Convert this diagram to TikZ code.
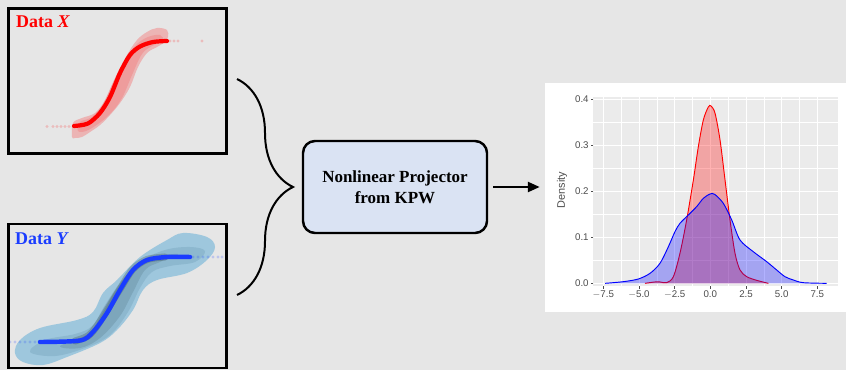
\documentclass[tikz,border=0pt]{standalone}
\usepackage{fontspec}
\setmainfont{Liberation Serif}
\setsansfont{Liberation Sans}
\usepackage{tikz}
\usetikzlibrary{decorations.pathreplacing, arrows.meta, positioning}
\definecolor{pagebg}{HTML}{E6E6E6}
\definecolor{projfill}{HTML}{DAE3F3}
\definecolor{dataX}{HTML}{FF0000}
\definecolor{dataY}{HTML}{1A3CFF}
\definecolor{kdeA}{HTML}{9EC7DD}
\definecolor{kdeB}{HTML}{8DB8CF}
\definecolor{kdeC}{HTML}{7DA6BB}
\definecolor{panelgray}{HTML}{EBEBEB}
\definecolor{ticktext}{HTML}{4D4D4D}
\tikzset{
    databox/.style={draw=black, line width=2.5pt, minimum width=6.54cm, inner sep=0pt},
    projbox/.style={draw=black, fill=projfill, line width=2.1pt, rounded corners=0.36cm,
        minimum width=5.52cm, minimum height=2.76cm, align=center,
        font=\fontsize{14.5}{17.5}\selectfont\bfseries},
    datalabel/.style={font=\fontsize{15.3}{18}\selectfont\bfseries, anchor=base west, inner sep=0pt},
    ticklabel/.style={font=\sffamily\fontsize{8.3}{10}\selectfont, text=ticktext, inner sep=1.5pt},
    majorgrid/.style={white, line width=0.7pt},
    minorgrid/.style={white, line width=0.3pt}
}

\begin{document}
\begin{tikzpicture}[x=0.03cm, y=-0.03cm]
    % canvas
    \fill[pagebg] (0,0) rectangle (846,370);
    \useasboundingbox (0,0) rectangle (846,370);

    % 1. Data X
    \fill[red!22!pagebg] plot[smooth cycle, tension=.6] coordinates {
        (72,137) (73,123) (82,118) (95,113) (105,100) (115,78) (127,55) (137,40)
        (147,32) (157,28) (167,30) (168,37) (165,42) (157,47) (147,53) (138,67)
        (130,87) (120,103) (110,115) (100,125) (90,132) (82,137) (75,138)};
    \fill[red!32!pagebg] plot[smooth cycle, tension=.6] coordinates {
        (78,131) (80,122) (92,117) (103,104) (113,83) (125,60) (136,45) (148,37)
        (160,35) (163,41) (152,46) (142,54) (132,75) (122,98) (110,114) (98,124) (86,131)};
    \foreach \px in {47,53,57,61,65,69} \fill[red, opacity=.18] (\px,126.5) circle (1.7);
    \foreach \px in {170,174,178,202} \fill[red, opacity=.18] (\px,41) circle (1.7);
    \draw[dataX, line width=3.6pt, line cap=round] plot[smooth] coordinates {
        (74,126) (88,123.5) (100,113) (110,97) (120,73) (130,55) (140,46.5) (153,42) (167,41)};
    \node[databox, minimum height=4.35cm] (boxX) at (117.5,81) {};
    \node[datalabel, text=dataX] (labelX) at (16,28) {Data \textit{X}};

    % 2. Data Y
    \fill[kdeA] plot[smooth cycle, tension=.6] coordinates {
        (15,353) (20,340) (40,328) (77,320) (93,312) (103,293) (117,280) (140,257)
        (167,240) (183,233) (207,237) (215,247) (207,260) (187,273) (157,280)
        (143,290) (133,310) (117,330) (100,343) (67,357) (43,365) (23,362)};
    \fill[kdeB] plot[smooth cycle, tension=.6] coordinates {
        (30,352) (45,340) (75,334) (92,326) (105,305) (120,283) (140,262) (165,250)
        (190,247) (205,251) (195,262) (170,266) (152,272) (140,288) (128,312)
        (110,335) (85,348) (55,356)};
    \fill[kdeC] plot[smooth cycle, tension=.6] coordinates {
        (60,346) (88,334) (102,314) (116,290) (132,269) (150,258) (178,254)
        (160,262) (145,270) (133,292) (120,316) (100,338) (80,348)};
    \draw[black, opacity=.18, line width=6pt, line cap=round] plot[smooth] coordinates {
        (75,341) (88,336) (97,326) (107,310) (120,289) (133,269) (147,259.5) (165,257)};
    \foreach \px in {10,15,20,25,30,35} \fill[dataY, opacity=.2] (\px,342) circle (1.7);
    \foreach \px in {193,198,203,208,213,218,222} \fill[dataY, opacity=.2] (\px,257) circle (1.7);
    \draw[dataY, line width=3.8pt, line cap=round] plot[smooth] coordinates {
        (40,342) (80,340.5) (93,332) (107,313) (120,290) (133,270) (147,260) (167,257) (190,257)};
    \node[databox, minimum height=4.32cm] (boxY) at (117.5,296) {};
    \node[datalabel, text=dataY] (labelY) at (15,244) {Data \textit{Y}};

    % 3. Brace and projector
    \coordinate (braceTop) at (237,79);
    \coordinate (braceBot) at (237,295);
    \draw[line width=1.7pt, decorate, decoration={brace, amplitude=1.68cm}] (braceTop) -- (braceBot);
    \node[projbox] (proj) at (395,187) {Nonlinear Projector\\from KPW};

    % 4. Density plot
    \node[fill=white, minimum width=9.03cm, minimum height=6.87cm, inner sep=0pt] (plotbg) at (695.5,197.5) {};
    \draw[line width=2.1pt, -{Triangle[length=0.36cm, width=0.3cm]}, shorten <=0.15cm, shorten >=0.15cm]
        (proj.east) -- (proj.east -| plotbg.west);
    \node[ticklabel, font=\sffamily\fontsize{9.3}{11}\selectfont, rotate=90] (ylab) at (562,190) {Density};

    \begin{scope}[shift={(710.33,283.33)}, x=0.428cm, y=13.8cm]
        \fill[panelgray] (-8.2,-0.006) rectangle (8.97,0.404);
        \foreach \gx in {-6.25,-3.75,-1.25,1.25,3.75,6.25}
            \draw[minorgrid] (\gx,-0.006) -- (\gx,0.404);
        \foreach \gy in {0.05,0.15,0.25,0.35}
            \draw[minorgrid] (-8.2,\gy) -- (8.97,\gy);
        \foreach \gx in {-7.5,-5,-2.5,0,2.5,5,7.5}
            \draw[majorgrid] (\gx,-0.006) -- (\gx,0.404);
        \foreach \gy in {0,0.1,0.2,0.3,0.4}
            \draw[majorgrid] (-8.2,\gy) -- (8.97,\gy);

        % red density
        \fill[red, opacity=.3] plot[smooth] coordinates {
            (-4.58,0) (-3.88,.003) (-3.53,.003) (-3.06,.0014) (-2.59,.0145) (-2.13,.0652)
            (-1.66,.1377) (-1.19,.2246) (-0.84,.2971) (-0.49,.3551) (-0.14,.3835) (0.05,.3855)
            (0.33,.3696) (0.68,.3116) (1.03,.2246) (1.38,.1377) (1.73,.0652) (2.08,.029)
            (2.55,.0145) (3.25,.0065) (4.07,0)} -- cycle;
        \draw[red, line width=0.8pt] plot[smooth] coordinates {
            (-4.58,0) (-3.88,.003) (-3.53,.003) (-3.06,.0014) (-2.59,.0145) (-2.13,.0652)
            (-1.66,.1377) (-1.19,.2246) (-0.84,.2971) (-0.49,.3551) (-0.14,.3835) (0.05,.3855)
            (0.33,.3696) (0.68,.3116) (1.03,.2246) (1.38,.1377) (1.73,.0652) (2.08,.029)
            (2.55,.0145) (3.25,.0065) (4.07,0)};

        % blue density
        \fill[blue, opacity=.3] plot[smooth] coordinates {
            (-7.38,0) (-6.1,.0036) (-5.05,.0094) (-4.23,.0217) (-3.53,.0435) (-2.94,.0797)
            (-2.48,.1123) (-2.13,.1304) (-1.54,.1486) (-0.96,.1667) (-0.49,.1848) (-0.02,.1942)
            (0.3,.1935) (0.91,.1739) (1.5,.1377) (2.08,.0942) (3.01,.0688) (3.95,.0471)
            (4.65,.029) (5.23,.0145) (5.82,.0072) (6.52,.0014) (8.15,0)} -- cycle;
        \draw[blue, line width=0.8pt] plot[smooth] coordinates {
            (-7.38,0) (-6.1,.0036) (-5.05,.0094) (-4.23,.0217) (-3.53,.0435) (-2.94,.0797)
            (-2.48,.1123) (-2.13,.1304) (-1.54,.1486) (-0.96,.1667) (-0.49,.1848) (-0.02,.1942)
            (0.3,.1935) (0.91,.1739) (1.5,.1377) (2.08,.0942) (3.01,.0688) (3.95,.0471)
            (4.65,.029) (5.23,.0145) (5.82,.0072) (6.52,.0014) (8.15,0)};

        % axes ticks
        \foreach \gy/\lab in {0/0.0,0.1/0.1,0.2/0.2,0.3/0.3,0.4/0.4}
            \draw[ticktext, line width=0.5pt] (-8.2,\gy) -- ++(-0.08cm,0) node[ticklabel, left] {\lab};
        \foreach \gx/\lab in {-7.5/$-$7.5,-5/$-$5.0,-2.5/$-$2.5,0/0.0,2.5/2.5,5/5.0,7.5/7.5}
            \draw[ticktext, line width=0.5pt] (\gx,-0.006) -- ++(0,-0.08cm) node[ticklabel, below] {\lab};
    \end{scope}
\end{tikzpicture}
\end{document}
